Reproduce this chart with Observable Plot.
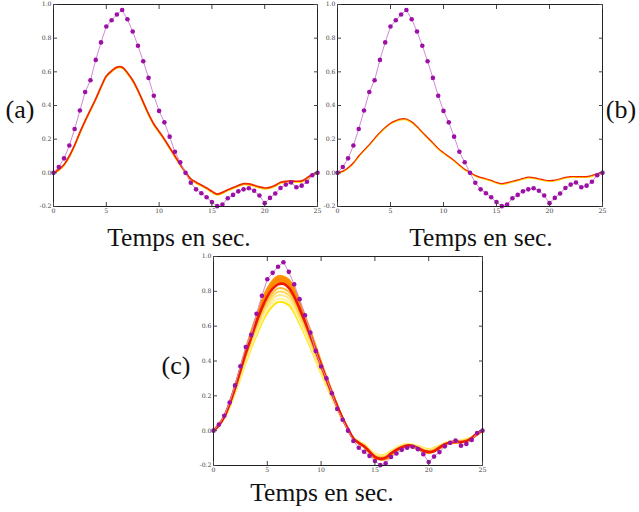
<!DOCTYPE html>
<html>
<head>
<meta charset="utf-8">
<script src="https://cdn.jsdelivr.net/npm/d3@7"></script>
<script src="https://cdn.jsdelivr.net/npm/@observablehq/plot@0.6"></script>
<style>
  html, body { margin: 0; padding: 0; background: #fff; }
  #page { position: relative; width: 639px; height: 512px; overflow: hidden; background: #fff; }
  #page svg { position: absolute; }
</style>
</head>
<body>
<div id="page"></div>
<script>
// Sampling grids (seconds)
const tHalf = d3.range(0, 25.001, 0.5);
const tSec = d3.range(0, 26);

// Target signal (purple markers), every 0.5 s
const target = [0, 0.035, 0.086, 0.162, 0.26, 0.37, 0.48, 0.55, 0.671, 0.775, 0.869,
  0.906, 0.941, 0.967, 0.912, 0.84, 0.755, 0.663, 0.564, 0.458, 0.368,
  0.3, 0.215, 0.125, 0.063, 0.0, -0.059, -0.098, -0.121, -0.145, -0.174,
  -0.198, -0.188, -0.151, -0.131, -0.11, -0.098, -0.092, -0.106, -0.135, -0.18,
  -0.149, -0.123, -0.09, -0.07, -0.057, -0.086, -0.076, -0.053, -0.014, 0];

// (a) response, every 0.5 s
const respA = [0, 0.02, 0.05, 0.1, 0.165, 0.24, 0.31, 0.375, 0.44, 0.51, 0.575,
  0.605, 0.628, 0.628, 0.595, 0.55, 0.49, 0.42, 0.35, 0.29, 0.245,
  0.2, 0.15, 0.1, 0.05, 0.005, -0.036, -0.056, -0.072, -0.09, -0.11,
  -0.126, -0.116, -0.1, -0.088, -0.075, -0.064, -0.066, -0.074, -0.083, -0.09,
  -0.086, -0.074, -0.056, -0.05, -0.048, -0.05, -0.048, -0.03, -0.01, 0];

// (b) response, every 0.5 s
const respB = [0, 0.01, 0.03, 0.06, 0.1, 0.135, 0.168, 0.205, 0.24, 0.27, 0.295,
  0.31, 0.32, 0.32, 0.303, 0.275, 0.242, 0.21, 0.178, 0.145, 0.12,
  0.097, 0.074, 0.047, 0.022, 0.004, -0.015, -0.027, -0.035, -0.045, -0.057,
  -0.064, -0.058, -0.05, -0.042, -0.033, -0.026, -0.028, -0.035, -0.042, -0.046,
  -0.043, -0.035, -0.027, -0.022, -0.022, -0.022, -0.022, -0.016, -0.004, 0];

// (c) main response, every 0.5 s
const respC = [0, 0.03, 0.08, 0.155, 0.245, 0.345, 0.445, 0.535, 0.625, 0.705, 0.77,
  0.815, 0.84, 0.843, 0.82, 0.77, 0.70, 0.625, 0.545, 0.46, 0.375,
  0.295, 0.215, 0.14, 0.07, 0.01, -0.045, -0.07, -0.09, -0.12, -0.15,
  -0.162, -0.155, -0.13, -0.11, -0.095, -0.085, -0.088, -0.1, -0.115, -0.122,
  -0.118, -0.097, -0.078, -0.068, -0.063, -0.065, -0.06, -0.042, -0.015, 0];

// (c) family of responses, every 1 s
const famC = {
  top:   [0, 0.085, 0.26, 0.47, 0.66, 0.815, 0.887, 0.866, 0.74, 0.575, 0.395, 0.227, 0.074, -0.048, -0.095, -0.158, -0.164, -0.116, -0.09, -0.106, -0.129, -0.102, -0.072, -0.069, -0.044, 0],
  upper: [0, 0.082, 0.252, 0.458, 0.644, 0.793, 0.865, 0.845, 0.721, 0.561, 0.386, 0.221, 0.072, -0.046, -0.093, -0.155, -0.16, -0.113, -0.088, -0.103, -0.126, -0.1, -0.07, -0.067, -0.043, 0],
  mid:   [0, 0.08, 0.245, 0.445, 0.625, 0.77, 0.84, 0.82, 0.70, 0.545, 0.375, 0.215, 0.07, -0.045, -0.09, -0.15, -0.155, -0.11, -0.085, -0.1, -0.122, -0.097, -0.068, -0.065, -0.042, 0],
  y1:    [0, 0.078, 0.238, 0.433, 0.608, 0.749, 0.817, 0.798, 0.681, 0.53, 0.365, 0.209, 0.068, -0.044, -0.088, -0.146, -0.151, -0.107, -0.083, -0.097, -0.119, -0.094, -0.066, -0.063, -0.041, 0],
  y2:    [0, 0.076, 0.233, 0.423, 0.594, 0.732, 0.798, 0.779, 0.665, 0.518, 0.356, 0.204, 0.067, -0.043, -0.086, -0.143, -0.147, -0.105, -0.081, -0.095, -0.116, -0.092, -0.065, -0.062, -0.04, 0],
  y3:    [0, 0.074, 0.227, 0.412, 0.578, 0.712, 0.777, 0.759, 0.648, 0.504, 0.347, 0.199, 0.065, -0.042, -0.083, -0.139, -0.143, -0.102, -0.079, -0.093, -0.113, -0.09, -0.063, -0.06, -0.039, 0],
  y4:    [0, 0.072, 0.221, 0.40, 0.563, 0.693, 0.756, 0.738, 0.63, 0.49, 0.338, 0.194, 0.063, -0.041, -0.081, -0.135, -0.14, -0.099, -0.077, -0.09, -0.11, -0.087, -0.061, -0.059, -0.038, 0],
  y5:    [0, 0.07, 0.215, 0.39, 0.549, 0.676, 0.738, 0.72, 0.615, 0.479, 0.329, 0.189, 0.061, -0.04, -0.079, -0.132, -0.136, -0.097, -0.075, -0.088, -0.107, -0.085, -0.06, -0.057, -0.037, 0]
};
const famColors = {y5: "#ffe600", y4: "#fff3a6", y3: "#ffe98a", y2: "#ffd95c", y1: "#ffbf33", upper: "#ff8a00", top: "#ff9400"};

const xTicks = [0, 5, 10, 15, 20, 25];
const yTicks = [-0.2, 0, 0.2, 0.4, 0.6, 0.8, 1.0];
const panelLabels = ["(a)", "(b)", "(c)"];
const axisTitle = "Temps en sec.";

const page = document.getElementById("page");
const series = (t, v) => t.map((x, i) => ({t: x, v: v[i]}));
const targetData = series(tHalf, target);

function targetMarks() {
  return [
    Plot.line(targetData, {x: "t", y: "v", stroke: "#d08ad6", strokeWidth: 1}),
    Plot.dot(targetData, {x: "t", y: "v", r: 2.3, fill: "#9c10a6", stroke: "none"})
  ];
}

function panel({left, top, width, height, mL, mR, mT, mB, marks}) {
  const svg = Plot.plot({
    width, height,
    marginLeft: mL, marginRight: mR, marginTop: mT, marginBottom: mB,
    style: {background: "transparent", overflow: "visible", fontFamily: "'DejaVu Serif', serif", fontSize: "6.2px"},
    x: {domain: [0, 25]},
    y: {domain: [-0.2, 1.0]},
    marks: [
      ...marks,
      Plot.frame({stroke: "#222", strokeWidth: 1}),
      Plot.axisX(xTicks, {anchor: "bottom", tickSize: -4, tickPadding: 6, tickFormat: d => String(d), color: "#444", label: null}),
      Plot.axisX(xTicks, {anchor: "top", tickSize: -4, tickFormat: () => "", color: "#444", label: null}),
      Plot.axisY(yTicks, {anchor: "left", tickSize: -4, tickPadding: 6, tickFormat: d => d.toFixed(1), color: "#444", label: null}),
      Plot.axisY(yTicks, {anchor: "right", tickSize: -4, tickFormat: () => "", color: "#444", label: null})
    ]
  });
  svg.style.left = left + "px";
  svg.style.top = top + "px";
  page.appendChild(svg);
}

// (a)
const dataA = series(tHalf, respA);
panel({left: 0, top: 0, width: 322, height: 220, mL: 53, mR: 5, mT: 4, mB: 14, marks: [
  Plot.line(dataA, {x: "t", y: "v", stroke: "#ffd400", strokeWidth: 1.5, dy: 1, curve: "catmull-rom"}),
  Plot.line(dataA, {x: "t", y: "v", stroke: "#f02800", strokeWidth: 1.7, curve: "catmull-rom"}),
  ...targetMarks()
]});

// (b)
const dataB = series(tHalf, respB);
panel({left: 300, top: 0, width: 310, height: 220, mL: 37, mR: 8, mT: 4, mB: 14, marks: [
  Plot.line(dataB, {x: "t", y: "v", stroke: "#ffd400", strokeWidth: 1.3, dy: 0.8, curve: "catmull-rom"}),
  Plot.line(dataB, {x: "t", y: "v", stroke: "#f02800", strokeWidth: 1.2, curve: "catmull-rom"}),
  ...targetMarks()
]});

// (c)
const dataC = series(tHalf, respC);
const famOrder = ["y5", "y4", "y3", "y2", "y1"];
const bandData = tSec.map((x, i) => ({t: x, lo: famC.mid[i], hi: famC.top[i]}));
panel({left: 170, top: 250, width: 320, height: 230, mL: 43, mR: 8, mT: 6, mB: 15, marks: [
  ...famOrder.map(k => Plot.line(series(tSec, famC[k]), {x: "t", y: "v", stroke: famColors[k], strokeWidth: 2, curve: "catmull-rom"})),
  Plot.areaY(bandData, {x: "t", y1: "lo", y2: "hi", fill: "#ff8c00", curve: "catmull-rom"}),
  Plot.line(series(tSec, famC.top), {x: "t", y: "v", stroke: famColors.top, strokeWidth: 2, curve: "catmull-rom"}),
  Plot.line(series(tSec, famC.upper), {x: "t", y: "v", stroke: famColors.upper, strokeWidth: 2, curve: "catmull-rom"}),
  Plot.line(dataC, {x: "t", y: "v", stroke: "#ee1a00", strokeWidth: 2.6, curve: "catmull-rom"}),
  ...targetMarks()
]});

// Panel tags and axis titles
const overlay = d3.select(page).append("svg")
  .attr("width", 639).attr("height", 512)
  .style("left", "0px").style("top", "0px")
  .style("font-family", "'Liberation Serif', 'Times New Roman', serif")
  .style("fill", "#111");
const tags = [
  {text: panelLabels[0], x: 20, y: 118},
  {text: panelLabels[1], x: 621, y: 118},
  {text: panelLabels[2], x: 176, y: 374}
];
overlay.selectAll("text.tag").data(tags).join("text")
  .attr("class", "tag").attr("x", d => d.x).attr("y", d => d.y)
  .attr("text-anchor", "middle").attr("font-size", 26).text(d => d.text);
const titles = [{x: 179, y: 246}, {x: 481, y: 246}, {x: 322, y: 501}];
overlay.selectAll("text.title").data(titles).join("text")
  .attr("class", "title").attr("x", d => d.x).attr("y", d => d.y)
  .attr("text-anchor", "middle").attr("font-size", 25.5).text(axisTitle);
</script>
</body>
</html>
